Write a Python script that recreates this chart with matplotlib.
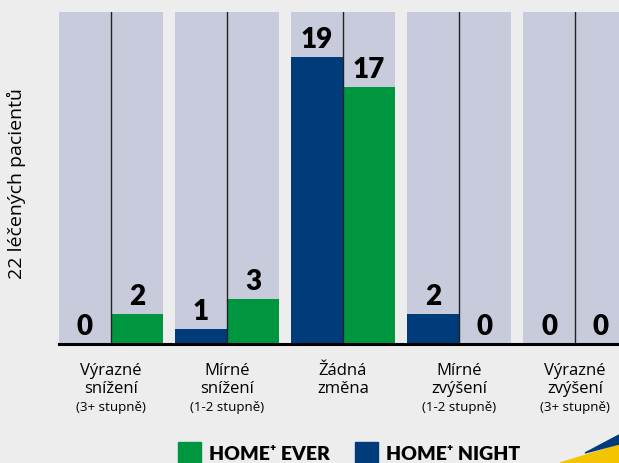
import matplotlib
matplotlib.use("Agg")
import matplotlib.pyplot as plt
from matplotlib.patches import Polygon, Rectangle
import numpy as np

categories = [["Výrazné", "snížení", "(3+ stupně)"],
              ["Mírné", "snížení", "(1-2 stupně)"],
              ["Žádná", "změna", ""],
              ["Mírné", "zvýšení", "(1-2 stupně)"],
              ["Výrazné", "zvýšení", "(3+ stupně)"]]
home_night = [0, 1, 19, 2, 0]
home_ever = [2, 3, 17, 0, 0]
total_patients = 22
ylabel = "22 léčených pacientů"
legend_labels = ["HOME⁺ EVER", "HOME⁺ NIGHT"]

BG = "#ededed"
PANEL = "#c8cbdb"
BLUE = "#003b7a"
GREEN = "#009640"

W, H = 619, 463
fig = plt.figure(figsize=(W / 100, H / 100), dpi=100, facecolor=BG)

bold_font = ["Lato", "DejaVu Sans"]
plain = ["Open Sans", "DejaVu Sans"]

ax_left = 59 / W
ax_bottom = 1 - 344 / H
ax_top = 1 - 12 / H
ax = fig.add_axes([ax_left, ax_bottom, 1 - ax_left, ax_top - ax_bottom])
ax.set_facecolor("none")

x = np.arange(len(categories))
bw = 0.448
ax.bar(x - bw / 2, [total_patients] * len(x), width=bw, color=PANEL, zorder=1)
ax.bar(x + bw / 2, [total_patients] * len(x), width=bw, color=PANEL, zorder=1)
ax.bar(x - bw / 2, home_night, width=bw, color=BLUE, zorder=2)
ax.bar(x + bw / 2, home_ever, width=bw, color=GREEN, zorder=2)
for xi in x:
    ax.plot([xi, xi], [0, total_patients], color="#222222", lw=1.0, zorder=3)

for xi, v in zip(x, home_night):
    ax.annotate(str(v), (xi - bw / 2, v), xytext=(0, 6.5), textcoords="offset points",
                ha="center", va="baseline", fontsize=20, fontweight="heavy",
                family=bold_font, zorder=4)
for xi, v in zip(x, home_ever):
    ax.annotate(str(v), (xi + bw / 2, v), xytext=(0, 6.5), textcoords="offset points",
                ha="center", va="baseline", fontsize=20, fontweight="heavy",
                family=bold_font, zorder=4)

ax.set_xlim(-bw, (W - 111) / 116)
ax.set_ylim(0, total_patients)
ax.axhline(0, color="black", lw=2.2, zorder=5, clip_on=False)
for s in ax.spines.values():
    s.set_visible(False)
ax.set_xticks([])
ax.set_yticks([])

# category labels
for xi, lines in zip(x, categories):
    px = 111 + 116 * xi
    fig.text(px / W, 1 - 371 / H, lines[0], ha="center", va="center",
             fontsize=12, family=plain)
    fig.text(px / W, 1 - 389 / H, lines[1], ha="center", va="center",
             fontsize=12, family=plain)
    if lines[2]:
        fig.text(px / W, 1 - 408 / H, lines[2], ha="center", va="center",
                 fontsize=9.6, family=plain)

fig.text(16 / W, 1 - 184 / H, ylabel, rotation=90, ha="center", va="center",
         fontsize=14, family=plain)

# legend
fig.patches.append(Rectangle((178 / W, 0), 23 / W, 21 / H, transform=fig.transFigure,
                             color=GREEN, figure=fig))
fig.patches.append(Rectangle((355 / W, 0), 23 / W, 21 / H, transform=fig.transFigure,
                             color=BLUE, figure=fig))
fig.text(209 / W, 2.5 / H, legend_labels[0], ha="left", va="baseline",
         fontsize=14, fontweight="heavy", family=bold_font)
fig.text(386 / W, 2.5 / H, legend_labels[1], ha="left", va="baseline",
         fontsize=14, fontweight="heavy", family=bold_font)

# corner decoration
fig.patches.append(Polygon([(560 / W, 0), (1, 18 / H), (1, 0)], closed=True,
                           transform=fig.transFigure, color="#f5c400", figure=fig))
fig.patches.append(Polygon([(585 / W, 10 / H), (1, 28 / H), (1, 19 / H)], closed=True,
                           transform=fig.transFigure, color=BLUE, figure=fig))

fig.savefig("out.png", dpi=100, facecolor=BG)
